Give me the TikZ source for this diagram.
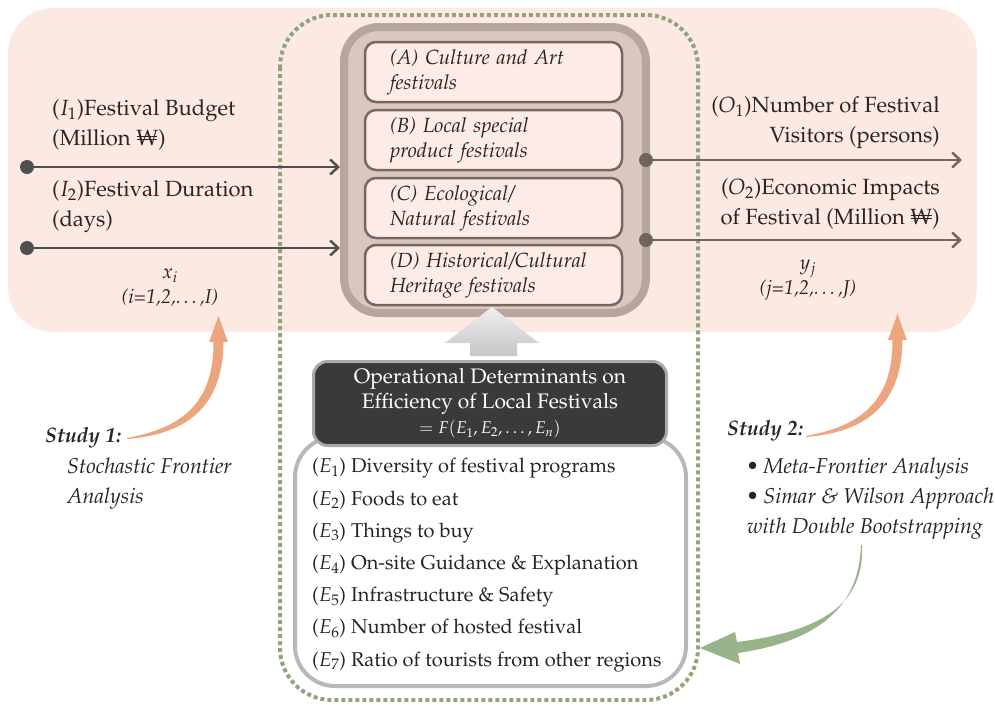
\documentclass[tikz,border=0pt]{standalone}
\usepackage[T1]{fontenc}
\usepackage{mathpazo}
\usetikzlibrary{arrows.meta}
\definecolor{peach}{RGB}{252,234,226}
\definecolor{dotgreen}{RGB}{143,165,125}
\definecolor{catline}{RGB}{183,166,157}
\definecolor{catfill}{RGB}{218,200,191}
\definecolor{kindline}{RGB}{118,104,96}
\definecolor{kindfill}{RGB}{252,236,229}
\definecolor{inarrowc}{RGB}{80,80,80}
\definecolor{outarrowc}{RGB}{112,100,94}
\definecolor{txt}{RGB}{40,36,34}
\definecolor{studyorange}{RGB}{237,165,127}
\definecolor{studygreen}{RGB}{152,180,138}
\definecolor{darkfill}{RGB}{58,58,58}
\definecolor{darkline}{RGB}{170,170,170}
\definecolor{listline}{RGB}{184,184,184}
\newcommand{\won}{\mbox{\ooalign{W\cr\hidewidth\rule[.25em]{.92em}{.05em}\hidewidth\cr\hidewidth\rule[.38em]{.92em}{.05em}\hidewidth}}}
\tikzset{>={Straight Barb[length=8pt,width=15pt]},
  lbl/.style={text=txt,inner sep=0pt,font=\fontsize{22}{30}\selectfont},
  idx/.style={text=txt,inner sep=0pt,align=center,font=\fontsize{20}{25}\selectfont\itshape},
  note/.style={text=txt,inner sep=0pt,align=left,font=\fontsize{21.5}{30}\selectfont\itshape},
  studyhead/.style={text=txt,inner sep=0pt,anchor=base west,font=\fontsize{21}{25}\selectfont\bfseries\itshape},
  catbox/.style={draw=catline,fill=catfill,line width=8pt,rounded corners=35pt,minimum width=302pt,minimum height=286pt},
  kindbox/.style={draw=kindline,fill=kindfill,line width=2.5pt,rounded corners=11pt,minimum width=257pt,minimum height=60pt,
    text width=207pt,inner xsep=25pt,align=left,text=txt,font=\fontsize{20.5}{25}\selectfont\itshape},
  darkbox/.style={draw=darkline,fill=darkfill,line width=3pt,rounded corners=14pt,minimum width=353pt,minimum height=84pt,
    text=white,align=center,font=\fontsize{21}{25}\selectfont},
  listbox/.style={draw=listline,fill=white,line width=4pt,rounded corners=40pt,minimum width=391pt,minimum height=249pt},
  inarrow/.style={draw=inarrowc,line width=2.5pt,->},
  outarrow/.style={draw=outarrowc,line width=2.5pt,->}}

\begin{document}
\begin{tikzpicture}[x=1pt,y=-1pt]
  \useasboundingbox (0,0) rectangle (995,704);
  \fill[peach,rounded corners=45pt] (8,8) rectangle (977,332);
  \draw[dotgreen,line width=4pt,dash pattern=on 4pt off 3pt,rounded corners=52pt] (280,15) rectangle (698,700);

  \node[catbox] (cat) at (495,170) {};
  \node[kindbox] (kA) at (493.5,72) {(A) Culture and Art\\festivals};
  \node[kindbox] (kB) at (493.5,140) {(B) Local special\\product festivals};
  \node[kindbox] (kC) at (493.5,208) {(C) Ecological/\\Natural festivals};
  \node[kindbox] (kD) at (493.5,275) {(D) Historical/Cultural\\Heritage festivals};

  \coordinate (i1) at (27,167);
  \coordinate (i2) at (27,248);
  \draw[inarrow] (i1) -- (i1 -| cat.west);
  \draw[inarrow] (i2) -- (i2 -| cat.west);
  \fill[inarrowc] (i1) circle (7pt) (i2) circle (7pt);

  \coordinate (o1) at (646,160);
  \coordinate (o1e) at (962,160);
  \coordinate (o2) at (646,240);
  \coordinate (o2e) at (962,240);
  \draw[outarrow] (o1) -- (o1e);
  \draw[outarrow] (o2) -- (o2e);
  \fill[outarrowc] (o1) circle (7pt) (o2) circle (7pt);

  \node[lbl,anchor=west,align=left] (ione) at (52,125) {($I_1$)Festival Budget\\(Million \won)};
  \node[lbl,anchor=west,align=left] (itwo) at (52,207) {($I_2$)Festival Duration\\(days)};
  \node[lbl,anchor=east,align=right] (oone) at (940,123) {($O_1$)Number of Festival\\Visitors (persons)};
  \node[lbl,anchor=east,align=right] (otwo) at (940,204) {($O_2$)Economic Impacts\\of Festival (Million \won)};
  \node[idx] (xi) at (170,288) {$x_i$\\(i=1,2,\ldots,I)};
  \node[idx] (yj) at (808,280) {$y_j$\\(j=1,2,\ldots,J)};

  \shade[top color=gray!12,bottom color=gray!45] (470,356) -- (470,343) -- (445,343) -- (492,307)
    -- (539,343) -- (517,343) -- (517,356) -- cycle;

  \node[listbox] (detbox) at (490.5,561.5) {};
  \node[darkbox] (opdet) at (490,403.5) {Operational Determinants on\\Efficiency of Local Festivals\\
    {\fontsize{17}{20}\selectfont $=F(E_1, E_2,\ldots, E_n)$}};
  \node[lbl,anchor=west,align=left,font=\fontsize{20}{32.2}\selectfont] (dets) at (312,565) {($E_1$) Diversity of festival programs\\
    ($E_2$) Foods to eat\\($E_3$) Things to buy\\($E_4$) On-site Guidance \& Explanation\\
    ($E_5$) Infrastructure \& Safety\\($E_6$) Number of hosted festival\\($E_7$) Ratio of tourists from other regions};

  \node[studyhead] (sone) at (45,442) {Study 1:};
  \node[note,anchor=west] (sonetxt) at (67,484) {Stochastic Frontier\\Analysis};
  \node[studyhead] (stwo) at (727,435) {Study 2:};
  \node[note,anchor=west] (stwotxt) at (747,499) {\textbullet{} Meta-Frontier Analysis\\\textbullet{} Simar \& Wilson Approach\\with Double Bootstrapping};

  \foreach \dx/\dy in {0/0,679/-2}
    \fill[studyorange,shift={(\dx,\dy)}] (127,438) .. controls (188,427) and (213.5,398) .. (213.5,342) -- (209,342)
      -- (218.5,316) -- (228,342) -- (223.5,342) .. controls (223,402) and (192,434) .. (127,439) -- cycle;
  \fill[studygreen] (862,545) .. controls (865,608) and (815,632) .. (737,642) -- (735,632) -- (700,648)
    -- (740,664) -- (738,653) .. controls (812,642) and (859,612) .. (861,545) -- cycle;
\end{tikzpicture}
\end{document}
